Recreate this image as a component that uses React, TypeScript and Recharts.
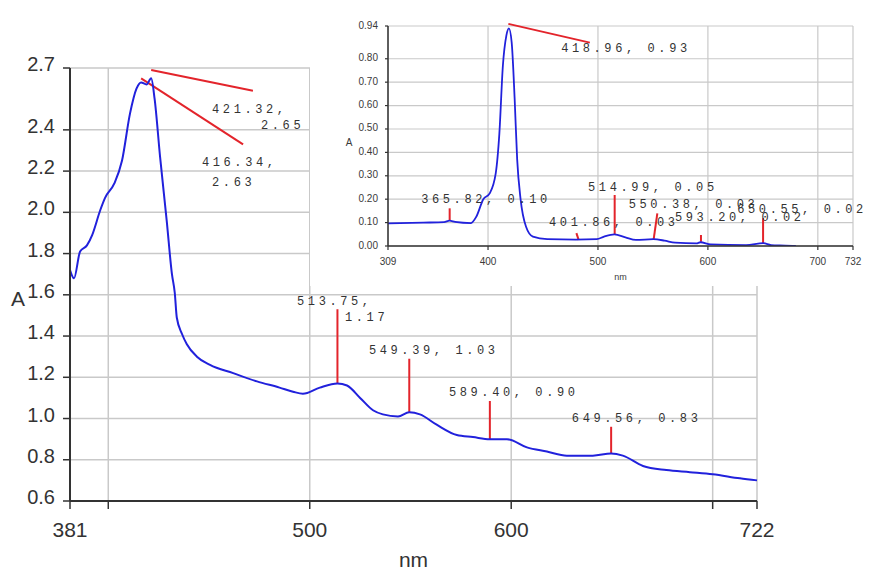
import React from "react";
import {
  LineChart,
  Line,
  XAxis,
  YAxis,
  CartesianGrid,
  ReferenceLine,
  ReferenceDot,
  Label,
} from "recharts";

// main spectrum (nm, A)
const mainNm = [
  381, 383, 386, 389.4, 392, 396, 398.4, 403, 406.8, 410.8, 414, 416.3, 419,
  421.3, 423, 425.7, 429, 431.6, 433, 434, 436.6, 439, 444, 450.5, 462, 473.8,
  485, 491.7, 496.6, 505, 513.75, 518.5, 525, 531.4, 536.3, 543.8, 549.4,
  554.7, 563, 573, 581, 589.4, 597.9, 607.8, 617.7, 627.6, 640.5, 649.6, 655.4,
  665.4, 677, 688.7, 700, 713.5, 722,
];
const mainAbs = [
  1.72, 1.68, 1.81, 1.84, 1.89, 2.01, 2.07, 2.14, 2.25, 2.48, 2.6, 2.63, 2.62,
  2.65, 2.55, 2.27, 1.96, 1.7, 1.61, 1.49, 1.41, 1.36, 1.3, 1.26, 1.22, 1.18,
  1.15, 1.13, 1.12, 1.15, 1.17, 1.16, 1.1, 1.04, 1.02, 1.01, 1.03, 1.02, 0.97,
  0.92, 0.91, 0.9, 0.9, 0.86, 0.84, 0.82, 0.82, 0.83, 0.82, 0.77, 0.75, 0.74,
  0.73, 0.71, 0.7,
];
const mainXTicks = [381, 400, 500, 600, 700, 722];
const mainXShown = [381, 500, 600, 722];
const mainYTicks = [0.6, 0.8, 1.0, 1.2, 1.4, 1.6, 1.8, 2.0, 2.2, 2.4, 2.6, 2.7];
const mainYHidden = [2.6];

// peak marker lines: [x1, y1, x2, y2]
const mainMarks = [
  [421.3, 2.69, 471.8, 2.59],
  [416.3, 2.65, 466.9, 2.33],
  [513.75, 1.17, 513.75, 1.53],
  [549.4, 1.03, 549.4, 1.29],
  [589.4, 0.9, 589.4, 1.085],
  [649.6, 0.83, 649.6, 0.96],
];
// peak labels: [x, y, text]
const mainNotes: [number, number, string][] = [
  [451.5, 2.496, "421.32,"],
  [475.8, 2.42, "2.65"],
  [446.5, 2.24, "416.34,"],
  [451.5, 2.14, "2.63"],
  [493.7, 1.565, "513.75,"],
  [517.5, 1.487, "1.17"],
  [529.4, 1.327, "549.39, 1.03"],
  [569.1, 1.124, "589.40, 0.90"],
  [630.1, 0.998, "649.56, 0.83"],
];

// inset spectrum (nm, A)
const insetNm = [
  309, 341, 360, 365, 370, 384.5, 389.3, 395.7, 401.5, 407, 410.3, 413.5, 416.7,
  419, 421.5, 424.2, 426.5, 429.6, 434.5, 440.8, 453.9, 479.7, 499, 505.5, 515,
  525, 534.6, 550.4, 560.5, 570.2, 589.5, 593.2, 602.5, 634.7, 650.5, 657.4,
  670.3, 680,
];
const insetAbs = [
  0.097, 0.1, 0.102, 0.108, 0.103, 0.098, 0.125, 0.2, 0.225, 0.31, 0.48, 0.77,
  0.9, 0.93, 0.87, 0.63, 0.37, 0.2, 0.083, 0.04, 0.029, 0.027, 0.029, 0.04, 0.05,
  0.037, 0.026, 0.029, 0.023, 0.014, 0.011, 0.016, 0.007, 0.004, 0.012, 0.004,
  0.002, 0,
];
const insetXTicks = [309, 400, 500, 600, 700, 732];
const insetYTicks = [0, 0.1, 0.2, 0.3, 0.4, 0.5, 0.6, 0.7, 0.8, 0.9, 0.94];
const insetYHidden = [0.9];

const insetMarks = [
  [418.5, 0.949, 492.6, 0.869],
  [365.1, 0.111, 365.1, 0.161],
  [480.4, 0.055, 482.4, 0.026],
  [515.2, 0.047, 515.2, 0.218],
  [554, 0.139, 550.7, 0.029],
  [593.7, 0.047, 593.7, 0.018],
  [650.2, 0.119, 650.2, 0.012],
];
const insetNotes: [number, number, string][] = [
  [466.5, 0.841, "418.96, 0.93"],
  [339.2, 0.197, "365.82, 0.10"],
  [455.5, 0.1, "401.86, 0.03"],
  [491, 0.249, "514.99, 0.05"],
  [528, 0.175, "550.38, 0.03"],
  [570.1, 0.118, "593.20, 0.02"],
  [626.7, 0.154, "650.55, 0.02"],
];

const mainData = mainNm.map((nm, i) => ({ nm, a: mainAbs[i] }));
const insetData = insetNm.map((nm, i) => ({ nm, a: insetAbs[i] }));

const BLUE = "#2121dc";
const RED = "#e3242b";
const GRID = "#c9c9c9";
const INK = "#333";
const SANS = "'Liberation Sans', Arial, sans-serif";
const mono = {
  fontFamily: "'Liberation Mono', 'DejaVu Sans Mono', monospace",
  fontSize: 12,
  letterSpacing: 3.6,
  fill: "#333",
};

const noteDot = (x: number, y: number, text: string, i: number) => (
  <ReferenceDot
    key={"n" + i}
    x={x}
    y={y}
    r={0}
    ifOverflow="visible"
    shape={(p: any) => (
      <text x={p.cx} y={p.cy} dominantBaseline="central" style={mono}>
        {text}
      </text>
    )}
  />
);

const markLine = (m: number[], i: number) => (
  <ReferenceLine
    key={"m" + i}
    segment={[
      { x: m[0], y: m[1] },
      { x: m[2], y: m[3] },
    ]}
    stroke={RED}
    strokeWidth={2}
    ifOverflow="visible"
  />
);

const App = () => {
  return (
    <div style={{ position: "absolute", left: 0, top: 0, width: 877, height: 570, background: "#fff" }}>
      <LineChart
        width={877}
        height={570}
        data={mainData}
        margin={{ top: 68, right: 120, bottom: 0, left: 0 }}
      >
        <CartesianGrid stroke={GRID} strokeWidth={1.5} />
        <XAxis
          dataKey="nm"
          type="number"
          domain={[381, 722]}
          ticks={mainXTicks}
          height={69}
          tickSize={8}
          tickMargin={13}
          axisLine={{ stroke: INK, strokeWidth: 2 }}
          tickLine={{ stroke: INK, strokeWidth: 1.5 }}
          tick={(p: any) =>
            mainXShown.includes(p.payload.value) ? (
              <text x={p.x} y={p.y} dy="0.71em" textAnchor="middle" fill={INK} fontSize={21} fontFamily={SANS}>
                {p.payload.value}
              </text>
            ) : (
              <g />
            )
          }
        >
          <Label
            content={(p: any) => (
              <text
                x={p.viewBox.x + p.viewBox.width / 2}
                y={p.viewBox.y + 58}
                textAnchor="middle"
                dominantBaseline="central"
                fill={INK}
                fontSize={21}
                fontFamily={SANS}
              >
                nm
              </text>
            )}
          />
        </XAxis>
        <YAxis
          type="number"
          domain={[0.6, 2.7]}
          ticks={mainYTicks}
          width={70}
          tickSize={7}
          tickMargin={8}
          allowDataOverflow
          axisLine={{ stroke: INK, strokeWidth: 2 }}
          tickLine={{ stroke: INK, strokeWidth: 1.5 }}
          tick={(p: any) =>
            mainYHidden.includes(p.payload.value) ? (
              <g />
            ) : (
              <text x={p.x} y={p.y - 4} textAnchor="end" dominantBaseline="central" fill={INK} fontSize={20} fontFamily={SANS}>
                {p.payload.value.toFixed(1)}
              </text>
            )
          }
        >
          <Label
            content={(p: any) => (
              <text
                x={p.viewBox.x + 18}
                y={p.viewBox.y + p.viewBox.height / 2 + 14}
                textAnchor="middle"
                dominantBaseline="central"
                fill={INK}
                fontSize={21}
                fontFamily={SANS}
              >
                A
              </text>
            )}
          />
        </YAxis>
        {mainMarks.map(markLine)}
        <Line
          type="monotone"
          dataKey="a"
          stroke={BLUE}
          strokeWidth={2}
          dot={false}
          isAnimationActive={false}
        />
        {mainNotes.map((n, i) => noteDot(n[0], n[1], n[2], i))}
      </LineChart>

      <div style={{ position: "absolute", left: 310, top: 0, width: 567, height: 286, background: "#fff" }}>
        <LineChart
          width={567}
          height={286}
          data={insetData}
          margin={{ top: 26, right: 24, bottom: 0, left: 0 }}
        >
          <CartesianGrid stroke={GRID} strokeWidth={1.2} />
          <XAxis
            dataKey="nm"
            type="number"
            domain={[309, 732]}
            ticks={insetXTicks}
            height={40}
            tickSize={4}
            tickMargin={8}
            axisLine={{ stroke: INK, strokeWidth: 1.5 }}
            tickLine={{ stroke: INK, strokeWidth: 1.2 }}
            tick={(p: any) => (
              <text x={p.x} y={p.y} dy="0.71em" textAnchor="middle" fill="#3a3a3a" fontSize={10} fontFamily={SANS}>
                {p.payload.value}
              </text>
            )}
          >
            <Label
              content={(p: any) => (
                <text
                  x={p.viewBox.x + p.viewBox.width / 2}
                  y={p.viewBox.y + 31}
                  textAnchor="middle"
                  dominantBaseline="central"
                  fill="#3a3a3a"
                  fontSize={9}
                  fontFamily={SANS}
                >
                  nm
                </text>
              )}
            />
          </XAxis>
          <YAxis
            type="number"
            domain={[0, 0.94]}
            ticks={insetYTicks}
            width={78}
            tickSize={3}
            tickMargin={7}
            allowDataOverflow
            axisLine={{ stroke: INK, strokeWidth: 1.5 }}
            tickLine={{ stroke: INK, strokeWidth: 1.2 }}
            tick={(p: any) =>
              insetYHidden.includes(p.payload.value) ? (
                <g />
              ) : (
                <text x={p.x} y={p.y - 1} textAnchor="end" dominantBaseline="central" fill="#3a3a3a" fontSize={10} fontFamily={SANS}>
                  {p.payload.value.toFixed(2)}
                </text>
              )
            }
          >
            <Label
              content={(p: any) => (
                <text
                  x={p.viewBox.x + 39}
                  y={p.viewBox.y + p.viewBox.height / 2 + 6}
                  textAnchor="middle"
                  dominantBaseline="central"
                  fill="#3a3a3a"
                  fontSize={10}
                  fontFamily={SANS}
                >
                  A
                </text>
              )}
            />
          </YAxis>
          {insetMarks.map(markLine)}
          <Line
            type="monotone"
            dataKey="a"
            stroke={BLUE}
            strokeWidth={1.8}
            dot={false}
            isAnimationActive={false}
          />
          {insetNotes.map((n, i) => noteDot(n[0], n[1], n[2], i))}
        </LineChart>
      </div>
    </div>
  );
};

export default App;
